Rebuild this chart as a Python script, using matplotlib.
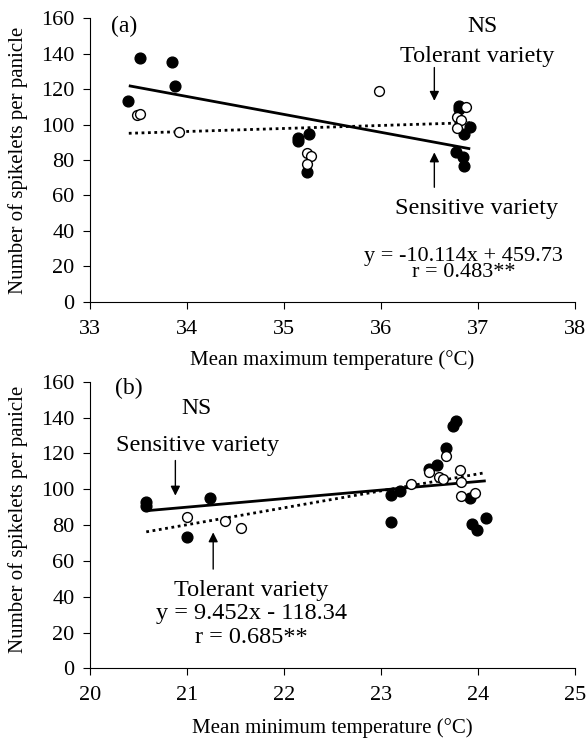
import matplotlib
matplotlib.use("Agg")
import matplotlib.pyplot as plt
import numpy as np

plt.rcParams['font.family'] = ['Liberation Serif', 'DejaVu Serif']

# panel (a): mean maximum temperature
a_sens_x = [33.39, 33.52, 33.85, 33.88, 35.14, 35.14, 35.26, 35.24,
            36.80, 36.80, 36.92, 36.86, 36.77, 36.85, 36.86]
a_sens_y = [113.2, 137.7, 135.2, 121.9, 92.3, 90.6, 94.7, 73.1,
            110.6, 108.9, 98.5, 94.7, 84.4, 81.5, 76.8]
a_tol_x = [33.48, 33.52, 33.92, 35.24, 35.28, 35.24, 35.98,
           36.88, 36.78, 36.83, 36.78]
a_tol_y = [105.5, 106.0, 96.0, 84.0, 82.0, 78.0, 118.8,
           109.8, 104.1, 102.6, 97.9]
a_fit_solid = (-10.114, 459.73)
a_fit_dot = (1.70, 38.3)
a_range = (33.4, 36.92)

# panel (b): mean minimum temperature
b_sens_x = [20.58, 20.58, 21.24, 21.00, 23.77, 23.74, 23.67, 23.58, 23.50,
            23.20, 23.10, 23.10, 23.92, 23.94, 23.99, 24.08]
b_sens_y = [92.6, 90.8, 95.1, 73.1, 137.9, 135.5, 122.8, 113.5, 111.3,
            99.2, 96.8, 81.8, 94.9, 80.5, 77.2, 83.9]
b_tol_x = [21.00, 21.39, 21.56, 23.67, 23.50, 23.60, 23.64, 23.81,
           23.83, 23.31, 23.82, 23.97]
b_tol_y = [84.2, 82.0, 78.3, 118.7, 109.4, 106.6, 105.7, 110.7,
           103.8, 102.9, 96.4, 97.7]
b_fit_solid = (4.77, -10.2)
b_fit_dot = (9.452, -118.34)
b_range = (20.58, 24.08)

yticks = [0, 20, 40, 60, 80, 100, 120, 140, 160]

fig = plt.figure(figsize=(5.86, 7.38), dpi=100)
ax1 = fig.add_axes([0.1536, 0.5912, 0.8276, 0.384])
ax2 = fig.add_axes([0.1536, 0.0944, 0.8276, 0.3884])


def style(ax, xlim, xlabel, ylab_y):
    ax.set_xlim(*xlim)
    ax.set_ylim(0, 160)
    ax.set_yticks(yticks)
    ax.set_xticks(np.arange(xlim[0], xlim[1] + 1))
    for s in ['top', 'right']:
        ax.spines[s].set_visible(False)
    ax.tick_params(direction='out', length=5, labelsize=16, pad=6)
    ax.tick_params(axis='x', pad=8)
    ax.set_xlabel(xlabel, fontsize=15)
    ax.set_ylabel('Number of spikelets per panicle', fontsize=15)
    ax.yaxis.set_label_coords(-0.128, ylab_y)
    ax.xaxis.set_label_coords(0.5, -0.172)


def draw(ax, sx, sy, tx, ty, solid, dot, rng):
    xs = np.array(rng)
    ax.plot(xs, solid[0] * xs + solid[1], color='black', lw=2, solid_capstyle='butt')
    ax.plot(xs, dot[0] * xs + dot[1], color='black', lw=2, linestyle=(0, (1, 1.3)))
    ax.scatter(sx, sy, s=60, color='black', zorder=3)
    ax.scatter(tx, ty, s=50, facecolor='white', edgecolor='black', linewidth=1, zorder=3)


arrow = dict(arrowstyle='-|>', color='black', lw=1, mutation_scale=14, shrinkA=0, shrinkB=0)

draw(ax1, a_sens_x, a_sens_y, a_tol_x, a_tol_y, a_fit_solid, a_fit_dot, a_range)
style(ax1, (33, 38), 'Mean maximum temperature (°C)', 0.5)
ax1.text(33.22, 152.2, '(a)', fontsize=17, ha='left', va='baseline')
ax1.text(37.05, 152.2, 'NS', fontsize=17, ha='center', va='baseline')
ax1.text(36.99, 135.2, 'Tolerant variety', fontsize=17.5, ha='center', va='baseline')
ax1.annotate('', xy=(36.55, 113.4), xytext=(36.55, 132.2), arrowprops=arrow)
ax1.annotate('', xy=(36.55, 84.3), xytext=(36.55, 64.6), arrowprops=arrow)
ax1.text(36.99, 49.5, 'Sensitive variety', fontsize=17.5, ha='center', va='baseline')
ax1.text(36.85, 13.7, 'y = -10.114x + 459.73\nr = 0.483**', fontsize=16,
         ha='center', va='baseline', multialignment='center', linespacing=0.82)

draw(ax2, b_sens_x, b_sens_y, b_tol_x, b_tol_y, b_fit_solid, b_fit_dot, b_range)
style(ax2, (20, 25), 'Mean minimum temperature (°C)', 0.52)
ax2.text(20.26, 153.2, '(b)', fontsize=17, ha='left', va='baseline')
ax2.text(21.10, 142, 'NS', fontsize=17, ha='center', va='baseline')
ax2.text(21.11, 121.5, 'Sensitive variety', fontsize=17.5, ha='center', va='baseline')
ax2.annotate('', xy=(20.88, 96.4), xytext=(20.88, 116), arrowprops=arrow)
ax2.annotate('', xy=(21.27, 75.9), xytext=(21.27, 55.4), arrowprops=arrow)
ax2.text(21.66, 14.4, 'Tolerant variety\ny = 9.452x - 118.34\nr = 0.685**', fontsize=17.5,
         ha='center', va='baseline', multialignment='center', linespacing=1.15)

fig.savefig('out.png', dpi=100)
